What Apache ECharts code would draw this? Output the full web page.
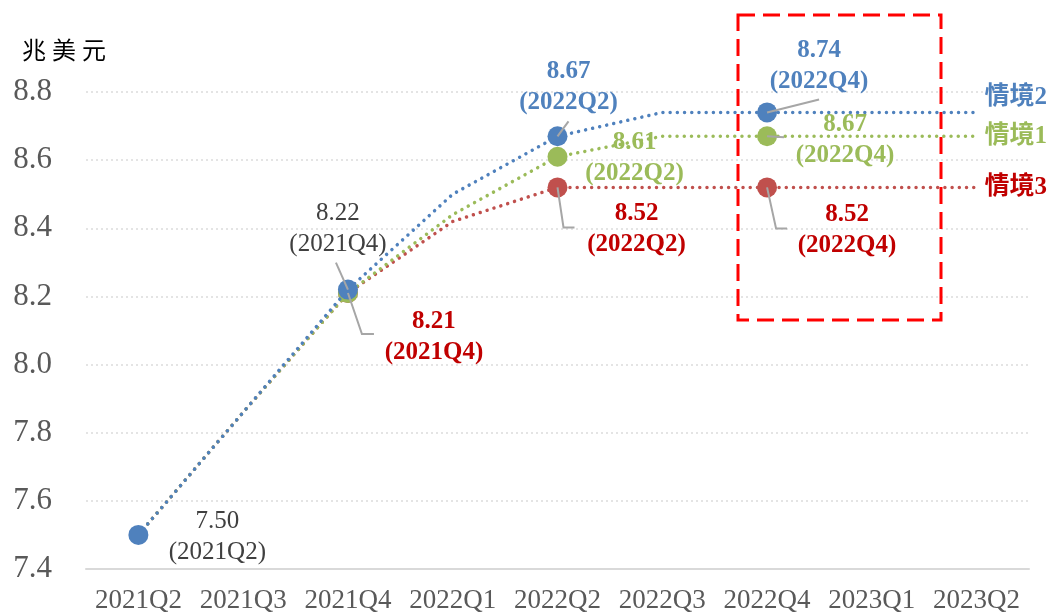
<!DOCTYPE html>
<html>
<head>
<meta charset="utf-8">
<script src="https://cdn.jsdelivr.net/npm/echarts@6/dist/echarts.min.js"></script>
<style>
  html, body { margin: 0; padding: 0; background: #fff; }
  #chart { width: 1057px; height: 615px; }
</style>
</head>
<body>
<div id="chart"></div>
<script>
// Quarterly categories
const categories = ['2021Q2', '2021Q3', '2021Q4', '2022Q1', '2022Q2', '2022Q3', '2022Q4', '2023Q1', '2023Q2'];

// Scenario paths (兆美元)
const scenario1 = [7.50, 7.86, 8.21, 8.44, 8.61, 8.67, 8.67, 8.67, 8.67]; // 情境1
const scenario2 = [7.50, 7.86, 8.22, 8.50, 8.67, 8.74, 8.74, 8.74, 8.74]; // 情境2
const scenario3 = [7.50, 7.86, 8.21, 8.42, 8.52, 8.52, 8.52, 8.52, 8.52]; // 情境3

// Value axis range
const yMin = 7.4, yMax = 8.8, yStep = 0.2;

// Which points carry a marker, per scenario (category indices)
const markedS1 = [2, 4, 6];
const markedS2 = [0, 2, 4, 6];
const markedS3 = [2, 4, 6];

const SERIF = "'Liberation Serif', 'Times New Roman', 'Noto Sans CJK TC', serif";
const GRAY_TXT = '#404040';
const BLUE = '#4F81BD', GREEN = '#9BBB59', RED = '#C0504D', RED_TXT = '#C00000';

// Callout styling: label offset from the marker centre, colour, weight and leader path
const calloutStyle = {
  '情境2': {
    0: { offset: [79, 2], color: GRAY_TXT, bold: false, leader: null },
    2: { offset: [-10, -61], color: GRAY_TXT, bold: false, leader: [[-12, -27], [0, 0]] },
    4: { offset: [11, -49], color: BLUE, bold: true, leader: [[11, -15], [0, 0]] },
    6: { offset: [52, -46], color: BLUE, bold: true, leader: [[0, 0], [52, -13]] }
  },
  '情境1': {
    4: { offset: [77, 1], color: GREEN, bold: true, leader: null },
    6: { offset: [78, 4], color: GREEN, bold: true, leader: [[0, 0], [17, 1]] }
  },
  '情境3': {
    2: { offset: [86, 44], color: RED_TXT, bold: true, leader: [[0, 0], [14, 41], [26, 41]] },
    4: { offset: [79, 42], color: RED_TXT, bold: true, leader: [[0, 0], [6, 40], [17, 40]] },
    6: { offset: [80, 43], color: RED_TXT, bold: true, leader: [[0, 0], [9, 41], [20, 41]] }
  }
};

function buildData(name, values, marked) {
  const styles = calloutStyle[name] || {};
  return values.map((v, i) => {
    const item = { value: v };
    if (marked.indexOf(i) < 0) {
      item.symbol = 'none';
    }
    const st = styles[i];
    if (st) {
      item.label = {
        show: true,
        position: 'inside',
        offset: st.offset,
        align: 'center',
        verticalAlign: 'middle',
        formatter: v.toFixed(2) + '\n(' + categories[i] + ')',
        color: st.color,
        fontWeight: st.bold ? 'bold' : 'normal',
        fontFamily: SERIF,
        fontSize: 25,
        lineHeight: 31
      };
    }
    return item;
  });
}

function makeSeries(name, values, marked, color, z, endOffset) {
  return {
    name: name,
    type: 'line',
    z: z,
    data: buildData(name, values, marked),
    symbol: 'circle',
    symbolSize: 20,
    showAllSymbol: true,
    itemStyle: { color: color },
    lineStyle: { color: color, width: 3.5, type: [0.01, 7.2], cap: 'round' },
    label: { show: false },
    endLabel: {
      show: true,
      formatter: '{a}',
      color: color === RED ? RED_TXT : color,
      fontWeight: 'bold',
      fontFamily: SERIF,
      fontSize: 25,
      distance: 8,
      offset: endOffset
    },
    emphasis: { disabled: true },
    animation: false
  };
}

const chart = echarts.init(document.getElementById('chart'), null, { renderer: 'canvas' });

chart.setOption({
  animation: false,
  backgroundColor: '#ffffff',
  grid: { left: 86, right: 28, top: 92, bottom: 46 },
  xAxis: {
    type: 'category',
    data: categories,
    boundaryGap: true,
    axisLine: { show: true, lineStyle: { color: '#D9D9D9', width: 2 } },
    axisTick: { show: false },
    axisLabel: { interval: 0, color: '#595959', fontFamily: SERIF, fontSize: 27, margin: 18 }
  },
  yAxis: {
    type: 'value',
    min: yMin,
    max: yMax,
    interval: yStep,
    axisLine: { show: false },
    axisTick: { show: false },
    axisLabel: {
      color: '#595959', fontFamily: SERIF, fontSize: 31, margin: 34,
      formatter: v => v.toFixed(1)
    },
    splitLine: { show: true, lineStyle: { color: '#DCDCDC', width: 1.5, type: [2, 3] } }
  },
  series: [
    makeSeries('情境3', scenario3, markedS3, RED, 2, [0, 0]),
    makeSeries('情境1', scenario1, markedS1, GREEN, 3, [0, 0]),
    makeSeries('情境2', scenario2, markedS2, BLUE, 4, [0, -15])
  ]
});

// Unit caption, highlight box and callout leader lines
const graphics = [
  {
    type: 'text', left: 22, top: 41, z: 10,
    style: { text: '兆 美 元', fill: '#000', font: "24px 'Liberation Serif', 'Noto Sans CJK TC', serif" }
  },
  {
    type: 'rect', z: 1, silent: true,
    shape: { x: 738, y: 15, width: 203, height: 305 },
    style: { fill: 'none', stroke: '#FF0000', lineWidth: 3, lineDash: [17, 8] }
  }
];

const seriesValues = { '情境1': scenario1, '情境2': scenario2, '情境3': scenario3 };
Object.keys(calloutStyle).forEach(name => {
  const styles = calloutStyle[name];
  Object.keys(styles).forEach(k => {
    const st = styles[k];
    if (!st.leader) return;
    const i = Number(k);
    const c = chart.convertToPixel({ xAxisIndex: 0, yAxisIndex: 0 }, [i, seriesValues[name][i]]);
    graphics.push({
      type: 'polyline', z: 20, silent: true,
      shape: { points: st.leader.map(p => [c[0] + p[0], c[1] + p[1]]) },
      style: { stroke: '#A6A6A6', lineWidth: 2, fill: 'none' }
    });
  });
});

chart.setOption({ graphic: graphics });
</script>
</body>
</html>
